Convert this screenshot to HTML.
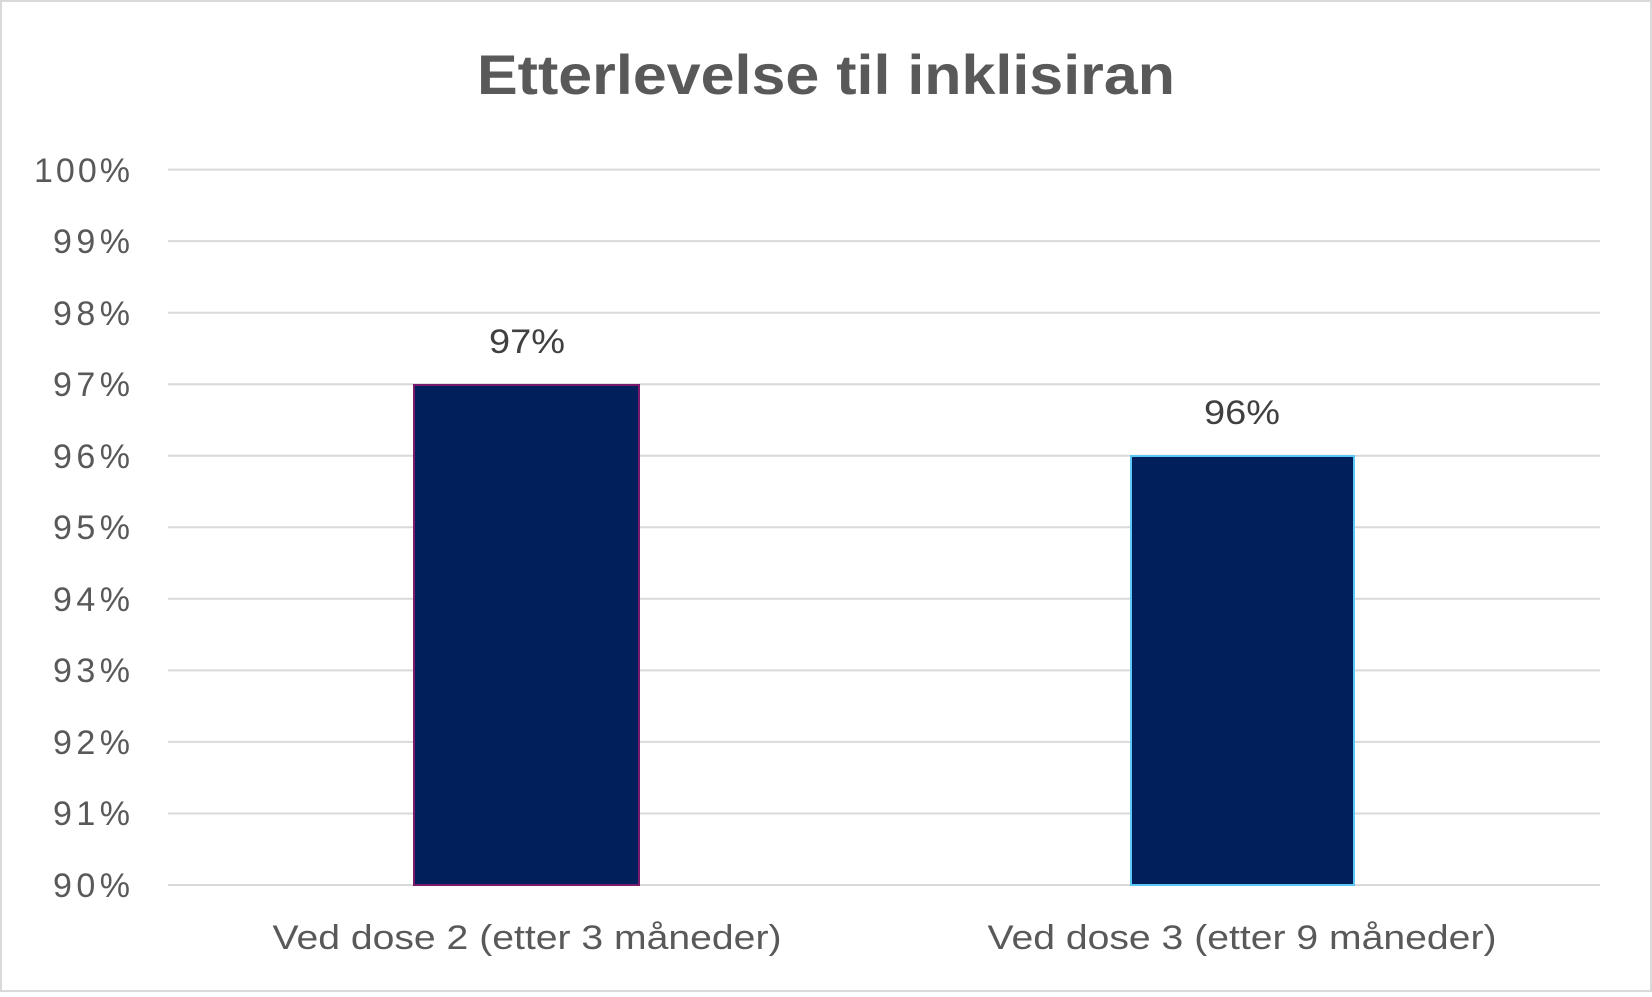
<!DOCTYPE html>
<html><head><style>html,body{margin:0;padding:0;background:#fff}</style></head><body>
<svg width="1652" height="992" viewBox="0 0 1652 992" xmlns="http://www.w3.org/2000/svg" font-family="Liberation Sans, sans-serif">
<rect x="1" y="1" width="1650" height="990" fill="#fff" stroke="#d9d9d9" stroke-width="2"/>
<text x="826" y="94" text-anchor="middle" font-size="56" font-weight="bold" fill="#595959" textLength="698" lengthAdjust="spacingAndGlyphs">Etterlevelse til inklisiran</text>
<g stroke="#d9d9d9" stroke-width="2">
<line x1="168" x2="1600" y1="169.6" y2="169.6"/>
<line x1="168" x2="1600" y1="241.1" y2="241.1"/>
<line x1="168" x2="1600" y1="312.7" y2="312.7"/>
<line x1="168" x2="1600" y1="384.2" y2="384.2"/>
<line x1="168" x2="1600" y1="455.8" y2="455.8"/>
<line x1="168" x2="1600" y1="527.3" y2="527.3"/>
<line x1="168" x2="1600" y1="598.8" y2="598.8"/>
<line x1="168" x2="1600" y1="670.4" y2="670.4"/>
<line x1="168" x2="1600" y1="741.9" y2="741.9"/>
<line x1="168" x2="1600" y1="813.5" y2="813.5"/>
<line x1="168" x2="1600" y1="885" y2="885"/>
</g>
<g font-size="34" fill="#595959" text-anchor="end" lengthAdjust="spacingAndGlyphs">
<text x="130" y="182" textLength="96">100%</text>
<text x="130" y="253" textLength="77">99%</text>
<text x="130" y="325" textLength="77">98%</text>
<text x="130" y="396" textLength="77">97%</text>
<text x="130" y="468" textLength="77">96%</text>
<text x="130" y="539" textLength="77">95%</text>
<text x="130" y="611" textLength="77">94%</text>
<text x="130" y="682" textLength="77">93%</text>
<text x="130" y="754" textLength="77">92%</text>
<text x="130" y="825" textLength="77">91%</text>
<text x="130" y="897" textLength="77">90%</text>
</g>
<rect x="414" y="385" width="225" height="500" fill="#001f5b" stroke="#7a1a6b" stroke-width="2"/>
<rect x="1131" y="456" width="223" height="429" fill="#001f5b" stroke="#5bc8f5" stroke-width="2"/>
<g font-size="34" fill="#404040" text-anchor="middle">
<text x="527" y="353" textLength="76" lengthAdjust="spacingAndGlyphs">97%</text>
<text x="1242" y="424" textLength="76" lengthAdjust="spacingAndGlyphs">96%</text>
</g>
<g font-size="34" fill="#595959" text-anchor="middle">
<text x="527" y="949" textLength="509" lengthAdjust="spacingAndGlyphs">Ved dose 2 (etter 3 måneder)</text>
<text x="1242" y="949" textLength="509" lengthAdjust="spacingAndGlyphs">Ved dose 3 (etter 9 måneder)</text>
</g>
</svg>
</body></html>
